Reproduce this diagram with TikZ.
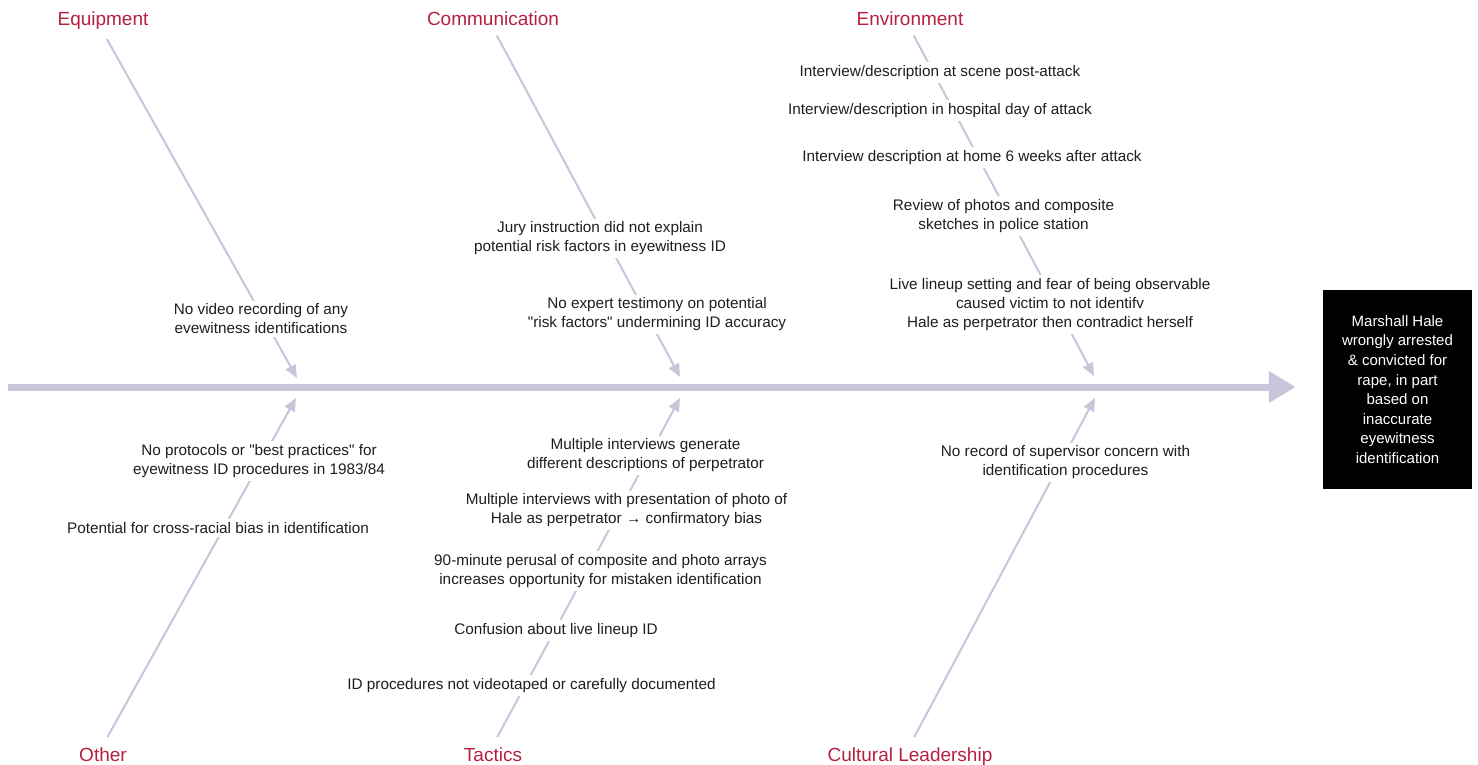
\documentclass[tikz,border=0pt]{standalone}
\usepackage{fontspec}
\setmainfont{Liberation Sans}[Ligatures=TeXOff]
\usetikzlibrary{arrows.meta,backgrounds}
\definecolor{bone}{RGB}{199,197,217}
\definecolor{catred}{RGB}{180,33,63}
\definecolor{txt}{RGB}{30,30,30}
\begin{document}
\begin{tikzpicture}[x=1pt,y=-1pt,
  cat/.style={text=catred, font=\fontsize{19}{22}\selectfont, inner sep=2pt},
  cause/.style={fill=white, align=center, font=\fontsize{15.3}{19}\selectfont, inner sep=3pt, text=txt},
  branch/.style={draw=bone, line width=2pt, -{Triangle[length=13pt,width=11pt]}},
  spine/.style={draw=bone, line width=7pt, -{Triangle[length=27pt,width=30pt]}},
  effect/.style={fill=black, text=white, align=center, font=\fontsize{15}{19.6}\selectfont,
    minimum width=149pt, minimum height=199pt, inner sep=0pt}
]
\useasboundingbox (0,0) rectangle (1478,765);

% effect box and spine
\node[effect] (eff) at (1397.5,389.5) {Marshall Hale\\wrongly arrested\\\& convicted for\\rape, in part\\based on\\inaccurate\\eyewitness\\identification};
\coordinate (s0) at (8,387);
\coordinate (s1) at (s0 -| eff.west);

% category titles
\node[cat, anchor=base] (eqT) at (103,26) {Equipment};
\node[cat, anchor=base] (coT) at (493,26) {Communication};
\node[cat, anchor=base] (enT) at (910,26) {Environment};
\node[cat, anchor=base] (otT) at (103,761) {Other};
\node[cat, anchor=base] (taT) at (493,761) {Tactics};
\node[cat, anchor=base] (cuT) at (910,761) {Cultural Leadership};

% arrow tips on spine
\coordinate (eqA) at (297,378);
\coordinate (coA) at (680,377);
\coordinate (enA) at (1094,376);
\coordinate (otA) at (296,398);
\coordinate (taA) at (680,398);
\coordinate (cuA) at (1095,398);

% causes
\node[cause] (eq1) at (261,319) {No video recording of any\\evewitness identifications};

\node[cause] (co1) at (600,238.5) {Jury instruction did not explain\\potential risk factors in eyewitness ID};
\node[cause] (co2) at (657,314.5) {No expert testimony on potential\\"risk factors" undermining ID accuracy};

\node[cause] (en1) at (940,72.5) {Interview/description at scene post-attack};
\node[cause] (en2) at (940,110.5) {Interview/description in hospital day of attack};
\node[cause] (en3) at (972,157.5) {Interview description at home 6 weeks after attack};
\node[cause] (en4) at (1003.5,216) {Review of photos and composite\\sketches in police station};
\node[cause] (en5) at (1050,304.5) {Live lineup setting and fear of being observable\\caused victim to not identifv\\Hale as perpetrator then contradict herself};

\node[cause] (ot1) at (259,461) {No protocols or "best practices" for\\eyewitness ID procedures in 1983/84};
\node[cause] (ot2) at (218,528) {Potential for cross-racial bias in identification};

\node[cause] (ta1) at (645.5,455.5) {Multiple interviews generate\\different descriptions of perpetrator};
\node[cause] (ta2) at (626.5,510.5) {Multiple interviews with presentation of photo of\\Hale as perpetrator → confirmatory bias};
\node[cause] (ta3) at (600.5,571) {90-minute perusal of composite and photo arrays\\increases opportunity for mistaken identification};
\node[cause] (ta4) at (556,630.5) {Confusion about live lineup ID};
\node[cause] (ta5) at (531.5,685.5) {ID procedures not videotaped or carefully documented};

\node[cause] (cu1) at (1065.5,462.5) {No record of supervisor concern with\\identification procedures};

\begin{scope}[on background layer]
  \draw[spine, shorten >=27pt] (s0) -- (s1);
  \draw[branch, shorten <=8pt] (eqT.south) -- (eqA);
  \draw[branch, shorten <=8pt] (coT.south) -- (coA);
  \draw[branch, shorten <=8pt] (enT.south) -- (enA);
  \draw[branch, shorten <=9pt] (otT.north) -- (otA);
  \draw[branch, shorten <=9pt] (taT.north) -- (taA);
  \draw[branch, shorten <=9pt] (cuT.north) -- (cuA);
\end{scope}
\end{tikzpicture}
\end{document}
